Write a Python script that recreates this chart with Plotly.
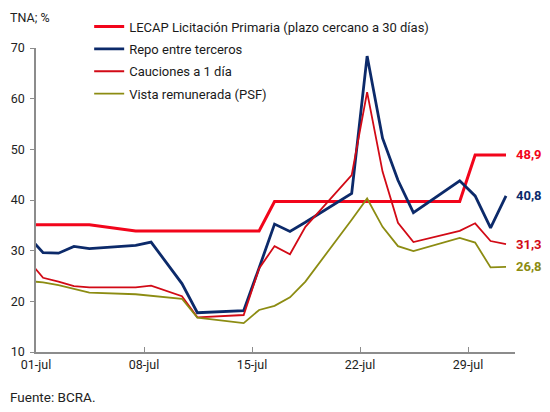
import pandas as pd
import plotly.graph_objects as go

# business days (Jul 9 is a holiday)
dates = ["2025-06-30", "2025-07-01", "2025-07-02", "2025-07-03", "2025-07-04",
         "2025-07-07", "2025-07-08", "2025-07-10", "2025-07-11", "2025-07-14",
         "2025-07-15", "2025-07-16", "2025-07-17", "2025-07-18", "2025-07-21",
         "2025-07-22", "2025-07-23", "2025-07-24", "2025-07-25", "2025-07-28",
         "2025-07-29", "2025-07-30", "2025-07-31"]

lecap = [35.1, 35.1, 35.1, 35.1, 35.1, 33.9, 33.9, 33.9, 33.9, 33.9, 33.9, 39.7,
         39.7, 39.7, 39.7, 39.7, 39.7, 39.7, 39.7, 39.7, 48.9, 48.9, 48.9]
repo = [33.0, 29.6, 29.5, 30.85, 30.4, 31.05, 31.7, 23.5, 17.75, 18.15, 26.6, 35.25,
        33.8, 35.6, 41.3, 68.4, 52.2, 43.9, 37.5, 43.8, 40.8, 34.5, 40.8]
cauciones = [28.3, 24.65, 23.9, 23.0, 22.75, 22.75, 23.1, 21.0, 16.85, 17.3, 26.5, 30.9,
             29.3, 34.7, 44.9, 61.3, 45.6, 35.5, 31.7, 33.9, 35.4, 31.9, 31.3]
vista = [24.0, 23.75, 23.2, 22.4, 21.7, 21.4, 21.05, 20.5, 16.8, 15.7, 18.3, 19.1,
         20.8, 23.9, 36.1, 40.3, 34.7, 30.9, 29.9, 32.5, 31.6, 26.7, 26.8]

tick_dates = ["2025-07-01", "2025-07-08", "2025-07-15", "2025-07-22", "2025-07-29"]
tick_labels = ["01-jul", "08-jul", "15-jul", "22-jul", "29-jul"]

series = [
    ("LECAP Licitación Primaria (plazo cercano a 30 días)", lecap, "#F2051B", 3),
    ("Repo entre terceros", repo, "#0C2A6A", 2.8),
    ("Cauciones a 1 día", cauciones, "#D20A16", 1.8),
    ("Vista remunerada (PSF)", vista, "#8C8C12", 1.8),
]

x = pd.to_datetime(dates)
fig = go.Figure()

for name, vals, color, width in series:
    # own legend group per trace so tracegroupgap spaces the legend rows
    fig.add_trace(go.Scatter(x=x, y=vals, name=name, mode="lines", legendgroup=name,
                             line=dict(color=color, width=width)))
    # end value label
    fig.add_annotation(x=x[-1], y=vals[-1], text="<b>%s</b>" % f"{vals[-1]:.1f}".replace(".", ","),
                       showarrow=False, xanchor="left", xshift=8,
                       font=dict(color=color, size=13, family="Roboto"))

# ticks sit a bit before the day's point, like in the source chart
tickvals = pd.to_datetime(tick_dates) - pd.Timedelta(hours=11)

fig.update_xaxes(range=[pd.Timestamp("2025-06-30 13:00"), pd.Timestamp("2025-07-31 14:00")],
                 tickvals=tickvals, ticktext=tick_labels,
                 showline=True, linecolor="#8c8c8c", linewidth=1.5,
                 ticks="inside", ticklen=5, tickcolor="#8c8c8c",
                 showgrid=False, zeroline=False, automargin=False,
                 tickfont=dict(size=12.5, color="#222222"))

fig.update_yaxes(range=[10, 70], tick0=10, dtick=10,
                 showline=True, linecolor="#8c8c8c", linewidth=1.5,
                 ticks="outside", ticklen=4, tickcolor="#8c8c8c",
                 ticklabelstandoff=3,
                 showgrid=False, zeroline=False, automargin=False,
                 tickfont=dict(size=12.5, color="#222222"))

fig.add_annotation(text="TNA; %", xref="paper", yref="paper", x=-0.058, y=1.099,
                   xanchor="left", yanchor="middle", showarrow=False,
                   font=dict(size=12.5, color="#222222"))
fig.add_annotation(text="Fuente: BCRA.", xref="paper", yref="paper", x=-0.058, y=-0.148,
                   xanchor="left", yanchor="middle", showarrow=False,
                   font=dict(size=13.5, color="#222222"))

# the page body adds an 8px offset, so the figure is 8px smaller and shifted
fig.update_layout(
    width=542, height=404,
    margin=dict(l=28, r=35, t=40, b=60, autoexpand=False),
    plot_bgcolor="white", paper_bgcolor="white",
    font=dict(family="Roboto", color="#222222"),
    showlegend=True,
    legend=dict(x=0.111, y=1.12, xanchor="left", yanchor="top",
                bgcolor="rgba(0,0,0,0)", itemwidth=30,
                font=dict(size=13, color="#1a1a1a"), tracegroupgap=2.5),
)

fig.write_html("out.html")
